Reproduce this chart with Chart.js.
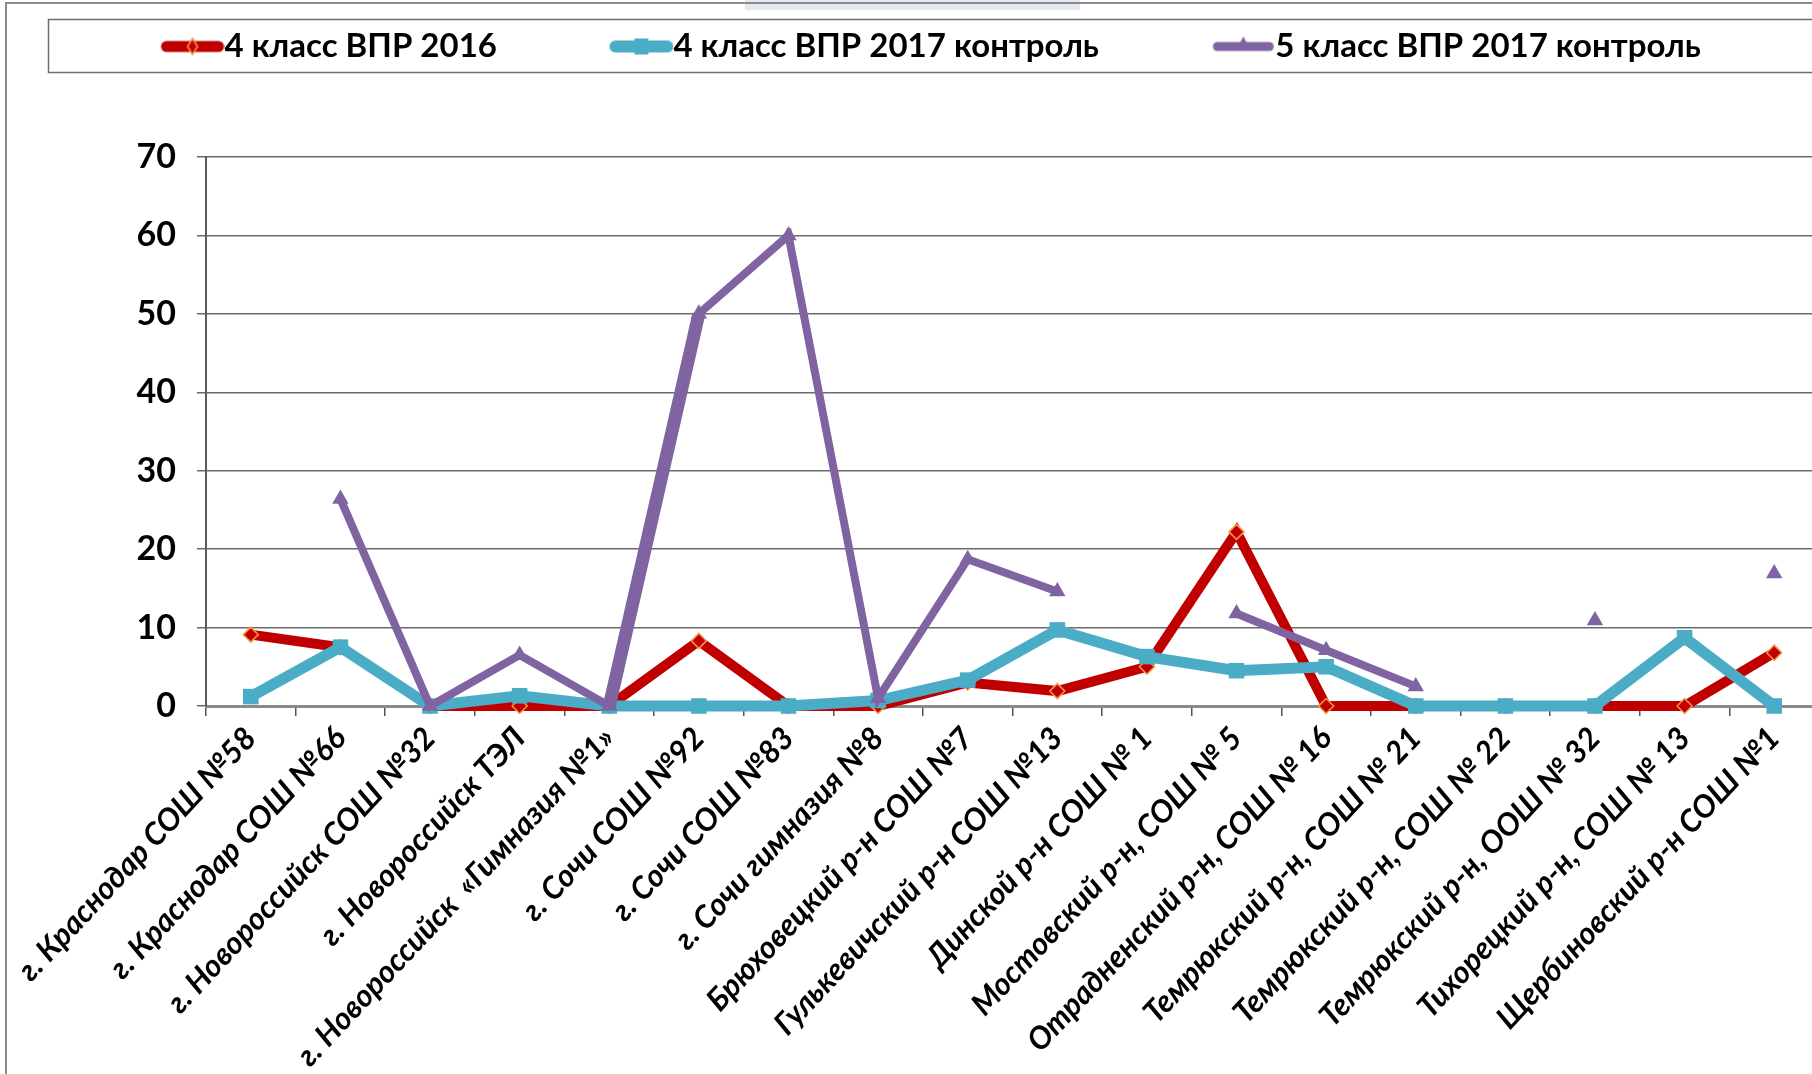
<!DOCTYPE html>
<html lang="ru">
<head>
<meta charset="utf-8">
<title>ВПР 2016–2017</title>
<script src="https://cdn.jsdelivr.net/npm/chart.js@4.4.1/dist/chart.umd.min.js"></script>
<style>
  html, body { margin: 0; padding: 0; background: #fff; overflow: hidden; }
  #chart { display: block; }
</style>
</head>
<body>
<canvas id="chart" width="1830" height="1074"></canvas>
<script>
// школы (ось X)
const schools = [
  "г. Краснодар СОШ №58",
  "г. Краснодар СОШ №66",
  "г. Новороссийск СОШ №32",
  "г. Новороссийск ТЭЛ",
  "г. Новороссийск  «Гимназия №1»",
  "г. Сочи СОШ №92",
  "г. Сочи СОШ №83",
  "г. Сочи гимназия №8",
  "Брюховецкий р-н СОШ №7",
  "Гулькевичский р-н СОШ №13",
  "Динской р-н СОШ № 1",
  "Мостовский р-н, СОШ № 5",
  "Отрадненский р-н, СОШ № 16",
  "Темрюкский р-н, СОШ № 21",
  "Темрюкский р-н, СОШ № 22",
  "Темрюкский р-н, ООШ № 32",
  "Тихорецкий р-н, СОШ № 13",
  "Щербиновский р-н СОШ №1"
];

// значения
const vpr2016 = [9.1, 7.5, 0, 0, 0, 8.3, 0, 0, 3, 1.9, 5, 22.2, 0, 0, 0, 0, 0, 6.8];
const vpr2017 = [1.2, 7.5, 0, 1.3, 0, 0, 0, 0.7, 3.3, 9.7, 6.3, 4.5, 5, 0, 0, 0, 8.7, 0];
const vpr2017g5 = [null, 26.4, 0, 6.5, 0, 50, 60, 1, 18.7, 14.6, null, 11.8, 7.1, 2.5, null, 10.9, null, 16.9];

const seriesNames = ["4 класс ВПР 2016", "4 класс ВПР 2017 контроль", "5 класс ВПР 2017 контроль"];

const yMin = 0, yMax = 70, yStep = 10;

const FONT = 'Lato, "Noto Sans", "DejaVu Sans", sans-serif';
const RED = "#C00000", CYAN = "#4BACC6", PURPLE = "#8064A2";
const LEG_BOX = 150, LEG_FONT = 33;

// значок легенды: линия с маркером, прижатая к тексту
function legendIcon(color, marker, lineW) {
  const w = LEG_BOX + LEG_FONT, h = 28;
  const c = document.createElement("canvas");
  c.width = w; c.height = h;
  const g = c.getContext("2d");
  const y = h / 2, x0 = w - 58, x1 = w - 6;
  g.strokeStyle = color;
  g.lineWidth = lineW;
  g.lineCap = "round";
  g.beginPath(); g.moveTo(x0, y); g.lineTo(x1, y); g.stroke();
  const cx = (x0 + x1) / 2;
  g.fillStyle = color;
  if (marker === "diamond") {
    g.beginPath();
    g.moveTo(cx, y - 8); g.lineTo(cx + 5, y); g.lineTo(cx, y + 8); g.lineTo(cx - 5, y);
    g.closePath(); g.fill();
    g.strokeStyle = "#F79646"; g.lineWidth = 1.5; g.stroke();
  } else if (marker === "square") {
    g.fillRect(cx - 7, y - 8, 14, 16);
  } else {
    g.beginPath();
    g.moveTo(cx, y - 10); g.lineTo(cx + 7, y + 3); g.lineTo(cx - 7, y + 3);
    g.closePath(); g.fill();
  }
  return c;
}
const icons = [legendIcon(RED, "diamond", 11), legendIcon(CYAN, "square", 12), legendIcon(PURPLE, "triangle", 9)];

// рамки как в Excel
const frame = {
  id: "frame",
  beforeLayout(chart) {
    const lg = chart.legend;
    if (lg && !lg._gap) {
      const fit = lg.fit;
      lg.fit = function () { fit.call(this); this.height += 84; };
      lg._gap = true;
    }
  },
  beforeDraw(chart) {
    const { ctx, legend, width, height } = chart;
    ctx.save();
    ctx.fillStyle = "#fff";
    ctx.fillRect(0, 0, width, height);
    ctx.fillStyle = "#e4eaf2";
    ctx.fillRect(745, 0, 335, 10);
    ctx.strokeStyle = "#8c8c8c";
    ctx.lineWidth = 2;
    ctx.strokeRect(6, 3, width + 20, height + 20);
    ctx.strokeStyle = "#6e6e6e";
    ctx.lineWidth = 1.5;
    ctx.strokeRect(48.5, legend.top - 0.5, width + 20, 53);
    ctx.restore();
  }
};

new Chart(document.getElementById("chart"), {
  type: "line",
  data: {
    labels: schools,
    datasets: [
      {
        label: seriesNames[0],
        data: vpr2016,
        borderColor: RED,
        backgroundColor: RED,
        borderWidth: 10,
        pointStyle: "rectRot",
        pointRadius: 7.5,
        pointBackgroundColor: RED,
        pointBorderColor: "#F79646",
        pointBorderWidth: 1.5,
        tension: 0,
        clip: false,
        order: 3
      },
      {
        label: seriesNames[1],
        data: vpr2017,
        borderColor: CYAN,
        backgroundColor: CYAN,
        borderWidth: 11,
        pointStyle: "rect",
        pointRadius: 11,
        pointBackgroundColor: CYAN,
        pointBorderColor: CYAN,
        pointBorderWidth: 0,
        tension: 0,
        clip: false,
        order: 2
      },
      {
        label: seriesNames[2],
        data: vpr2017g5,
        borderColor: PURPLE,
        backgroundColor: PURPLE,
        borderWidth: 8,
        segment: {
          borderWidth: ctx => (ctx.p0DataIndex === 4 ? 13 : 8)
        },
        pointStyle: "triangle",
        pointRadius: 9.5,
        pointBackgroundColor: PURPLE,
        pointBorderColor: PURPLE,
        pointBorderWidth: 0,
        spanGaps: false,
        tension: 0,
        clip: false,
        order: 1
      }
    ]
  },
  options: {
    responsive: false,
    animation: false,
    layout: { padding: { top: 20, left: 48, right: 0, bottom: 0 } },
    scales: {
      x: {
        offset: true,
        grid: {
          offset: true,
          drawOnChartArea: false,
          tickLength: 10,
          color: "#555",
          lineWidth: 1.5
        },
        border: { color: "#8a8a8a", width: 3 },
        ticks: {
          autoSkip: false,
          minRotation: 47,
          maxRotation: 47,
          padding: 4,
          color: "#000",
          font: { family: FONT, size: 31, weight: "bold", style: "italic" }
        },
        afterFit: s => { s.height = 368; }
      },
      y: {
        min: yMin,
        max: yMax,
        ticks: {
          stepSize: yStep,
          padding: 21,
          color: "#000",
          font: { family: FONT, size: 34, weight: "bold" }
        },
        grid: { color: "#6a6a6a", lineWidth: 1.5, tickLength: 9 },
        border: { color: "#5a5a5a", width: 2 },
        afterFit: s => { s.width = 158; }
      }
    },
    plugins: {
      legend: {
        position: "top",
        align: "start",
        labels: {
          usePointStyle: true,
          pointStyleWidth: LEG_BOX,
          boxHeight: LEG_FONT,
          padding: 10,
          color: "#000",
          font: { family: FONT, size: LEG_FONT, weight: "bold" },
          generateLabels: chart =>
            Chart.defaults.plugins.legend.labels.generateLabels(chart)
              .map(item => ({ ...item, pointStyle: icons[item.datasetIndex] })),
          sort: (a, b) => a.datasetIndex - b.datasetIndex
        }
      },
      tooltip: { enabled: false }
    }
  },
  plugins: [frame]
});
</script>
</body>
</html>
